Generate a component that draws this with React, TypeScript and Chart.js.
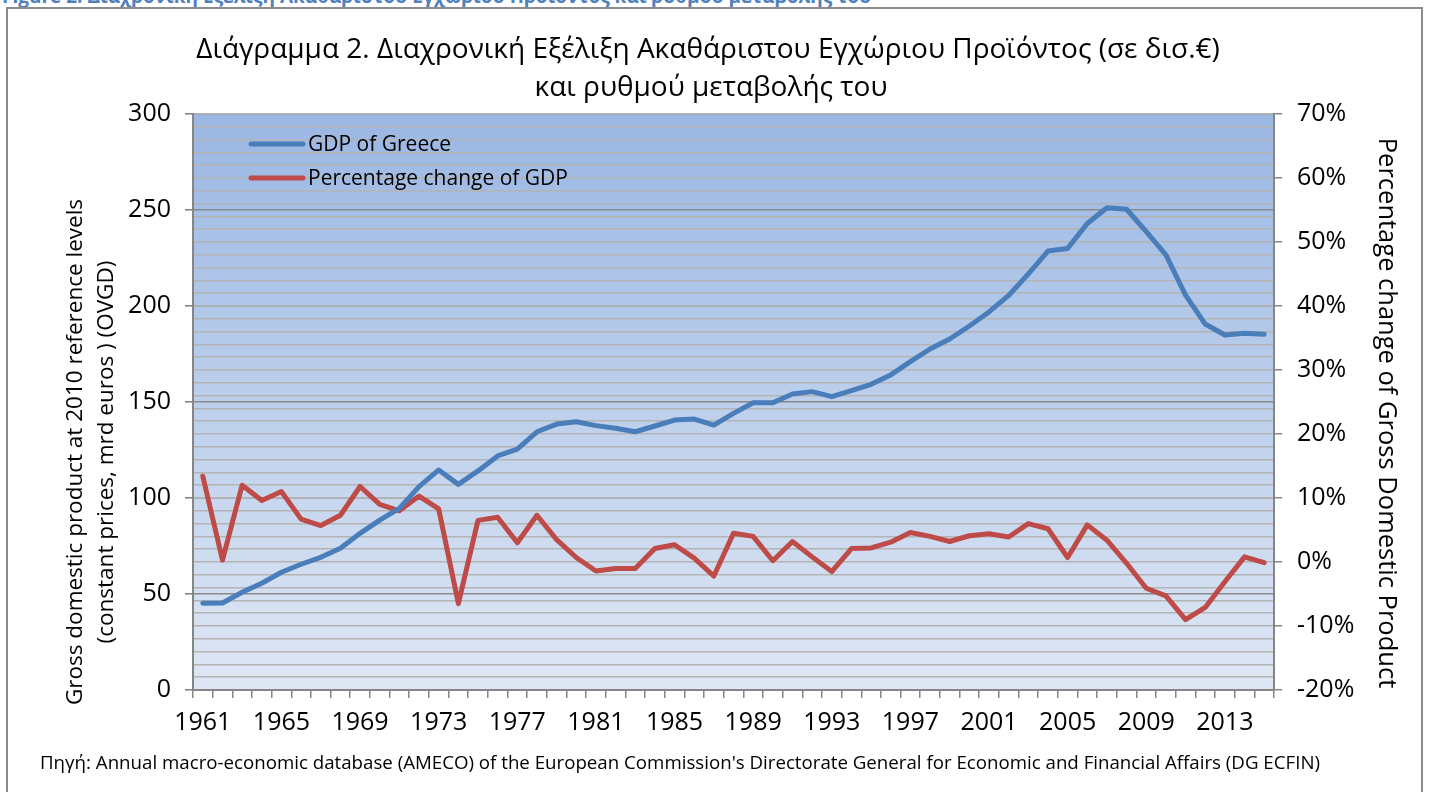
import React, { useEffect, useRef } from "react";
import { Chart, registerables } from "chart.js";

Chart.register(...registerables);

const years = [
  "1961", "1962", "1963", "1964", "1965", "1966", "1967", "1968", "1969", "1970",
  "1971", "1972", "1973", "1974", "1975", "1976", "1977", "1978", "1979", "1980",
  "1981", "1982", "1983", "1984", "1985", "1986", "1987", "1988", "1989", "1990",
  "1991", "1992", "1993", "1994", "1995", "1996", "1997", "1998", "1999", "2000",
  "2001", "2002", "2003", "2004", "2005", "2006", "2007", "2008", "2009", "2010",
  "2011", "2012", "2013", "2014", "2015",
];

const xTickLabels = [
  "1961", "1965", "1969", "1973", "1977", "1981", "1985",
  "1989", "1993", "1997", "2001", "2005", "2009", "2013",
];

const gdpGreece = [
  45.2, 45.3, 50.9, 55.6, 61.3, 65.5, 69.1, 73.8, 81.6, 88.5,
  94.6, 105.9, 114.6, 107.1, 114.1, 121.9, 125.5, 134.5, 138.5, 139.7,
  137.7, 136.3, 134.5, 137.5, 140.6, 141.1, 138.0, 144.1, 149.6, 149.6,
  154.2, 155.4, 152.8, 155.9, 159.2, 164.1, 171.0, 177.6, 182.8, 189.6,
  196.9, 205.5, 216.7, 228.6, 230.0, 243.0, 251.2, 250.4, 238.7, 226.6,
  205.7, 190.6, 184.9, 185.8, 185.3,
];

const gdpChange = [
  13.4, 0.3, 12.0, 9.6, 11.0, 6.7, 5.7, 7.3, 11.8, 9.0,
  8.0, 10.3, 8.3, -6.5, 6.5, 7.0, 3.0, 7.3, 3.5, 0.7,
  -1.4, -1.0, -1.0, 2.1, 2.7, 0.6, -2.2, 4.5, 4.0, 0.2,
  3.2, 0.8, -1.5, 2.1, 2.2, 3.1, 4.6, 4.0, 3.2, 4.1,
  4.4, 3.9, 6.0, 5.2, 0.7, 5.8, 3.4, -0.2, -4.1, -5.3,
  -9.0, -7.1, -3.1, 0.8, -0.1,
];

const seriesLabels = ["GDP of Greece", "Percentage change of GDP"];
const seriesColors = ["#4a7ebb", "#be4b48"];

const titleLines = [
  "Διάγραμμα 2. Διαχρονική Εξέλιξη Ακαθάριστου Εγχώριου Προϊόντος (σε δισ.€)",
  "και ρυθμού μεταβολής του",
];
const leftTitleLines = [
  "Gross domestic product at 2010 reference levels",
  "(constant prices, mrd euros ) (OVGD)",
];
const rightTitle = "Percentage change of Gross Domestic Product";
const sourceText =
  "Πηγή: Annual macro-economic database (AMECO) of the European Commission's Directorate General for Economic and Financial Affairs (DG ECFIN)";
const captionText =
  "Figure 2: Διαχρονική Εξέλιξη Ακαθάριστου Εγχώριου Προϊόντος και ρυθμού μεταβολής του";

const FONT = '"Open Sans", "Noto Sans", sans-serif';

const bgPlugin = {
  id: "plotBg",
  beforeDraw(chart: any) {
    const { ctx, chartArea: a } = chart;
    const g = ctx.createLinearGradient(0, a.top, 0, a.bottom);
    g.addColorStop(0, "#9ab7e3");
    g.addColorStop(1, "#dfe7f4");
    ctx.save();
    ctx.fillStyle = g;
    ctx.fillRect(a.left, a.top, a.right - a.left, a.bottom - a.top);
    ctx.restore();
  },
};

const textPlugin = {
  id: "texts",
  afterDraw(chart: any) {
    const { ctx } = chart;
    ctx.save();
    ctx.fillStyle = "#000";
    ctx.textBaseline = "middle";
    ctx.textAlign = "center";
    // title
    ctx.font = `28px ${FONT}`;
    ctx.fillText(titleLines[0], 708, 50);
    ctx.fillText(titleLines[1], 711, 88);
    // left axis title
    ctx.font = `22.5px ${FONT}`;
    ctx.save();
    ctx.translate(76, 452);
    ctx.rotate(-Math.PI / 2);
    ctx.fillText(leftTitleLines[0], 0, 0);
    ctx.fillText(leftTitleLines[1], 0, 31);
    ctx.restore();
    // right axis title
    ctx.font = `25.5px ${FONT}`;
    ctx.save();
    ctx.translate(1386, 413);
    ctx.rotate(Math.PI / 2);
    ctx.fillText(rightTitle, 0, 0);
    ctx.restore();
    // legend
    ctx.textAlign = "left";
    ctx.font = `21px ${FONT}`;
    const ly = [145, 179];
    seriesLabels.forEach((lab, i) => {
      ctx.strokeStyle = seriesColors[i];
      ctx.lineWidth = 5;
      ctx.lineCap = "round";
      ctx.beginPath();
      ctx.moveTo(251, ly[i] - 1);
      ctx.lineTo(303, ly[i] - 1);
      ctx.stroke();
      ctx.fillText(lab, 308, ly[i]);
    });
    // source
    ctx.font = `18.7px ${FONT}`;
    ctx.fillText(sourceText, 40, 764);
    ctx.restore();
  },
};

export default function App() {
  const ref = useRef<HTMLCanvasElement>(null);

  useEffect(() => {
    if (!ref.current) return;
    const axisGrey = "#868686";
    const chart = new Chart(ref.current, {
      type: "line",
      data: {
        labels: years,
        datasets: [
          {
            label: seriesLabels[0],
            data: gdpGreece,
            yAxisID: "y",
            borderColor: seriesColors[0],
            backgroundColor: seriesColors[0],
            borderWidth: 5,
            pointRadius: 0,
            tension: 0,
            borderCapStyle: "round",
            borderJoinStyle: "round",
          },
          {
            label: seriesLabels[1],
            data: gdpChange,
            yAxisID: "y1",
            borderColor: seriesColors[1],
            backgroundColor: seriesColors[1],
            borderWidth: 5,
            pointRadius: 0,
            tension: 0,
            borderCapStyle: "round",
            borderJoinStyle: "round",
          },
        ],
      },
      options: {
        responsive: false,
        animation: false,
        layout: { padding: { top: 114, left: 0, right: 0, bottom: 0 } },
        plugins: {
          legend: { display: false },
          title: { display: false },
          tooltip: { enabled: false },
        },
        scales: {
          x: {
            type: "category",
            offset: true,
            grid: {
              display: true,
              drawOnChartArea: false,
              offset: true,
              tickLength: 8,
              color: axisGrey,
              lineWidth: 1.5,
            },
            border: { display: true, color: axisGrey, width: 2 },
            ticks: {
              autoSkip: false,
              maxRotation: 0,
              minRotation: 0,
              padding: 10,
              color: "#000",
              font: { family: FONT, size: 25 },
              callback: (_v: any, i: number) =>
                xTickLabels.includes(years[i]) ? years[i] : "",
            },
            afterFit: (s: any) => {
              s.height = 102;
            },
          },
          y: {
            position: "left",
            min: 0,
            max: 300,
            ticks: {
              stepSize: 50,
              autoSkip: false,
              padding: 14,
              color: "#000",
              font: { family: FONT, size: 25 },
            },
            grid: { color: "#8a8a8a", lineWidth: 1.6, tickLength: 8, tickColor: axisGrey },
            border: { display: true, color: axisGrey, width: 2 },
            afterFit: (s: any) => {
              s.width = 193;
            },
          },
          y1: {
            position: "right",
            min: -20,
            max: 70,
            ticks: {
              stepSize: 2,
              autoSkip: false,
              maxTicksLimit: 100,
              padding: 15,
              color: "#000",
              font: { family: FONT, size: 25 },
              callback: (v: any) =>
                Math.abs(Math.round(Number(v))) % 10 === 0 ? `${Math.round(Number(v))}%` : "",
            },
            grid: {
              color: "#b4b4b4",
              lineWidth: 1.5,
              tickLength: 8,
              tickColor: (c: any) =>
                c && c.tick && Math.abs(Math.round(c.tick.value)) % 10 === 0
                  ? axisGrey
                  : "rgba(0,0,0,0)",
            },
            border: { display: true, color: axisGrey, width: 2 },
            afterFit: (s: any) => {
              s.width = 1435 - 1274;
            },
          },
        },
      },
      plugins: [bgPlugin, textPlugin],
    });
    return () => chart.destroy();
  }, []);

  return (
    <div style={{ position: "absolute", left: 0, top: 0, width: 1435, height: 792, overflow: "hidden", background: "#fff" }}>
      <div
        style={{
          position: "absolute",
          left: 2,
          top: -17,
          fontFamily: FONT,
          fontWeight: "bold",
          fontSize: 19,
          lineHeight: "26px",
          color: "#4f81bd",
          whiteSpace: "nowrap",
        }}
      >
        {captionText}
      </div>
      <div
        style={{
          position: "absolute",
          left: 6,
          top: 7,
          width: 1417,
          height: 800,
          border: "2px solid #8c8c8c",
          boxSizing: "border-box",
          background: "#fff",
        }}
      />
      <canvas
        ref={ref}
        width={1435}
        height={792}
        style={{ position: "absolute", left: 0, top: 0, width: 1435, height: 792 }}
      />
    </div>
  );
}
